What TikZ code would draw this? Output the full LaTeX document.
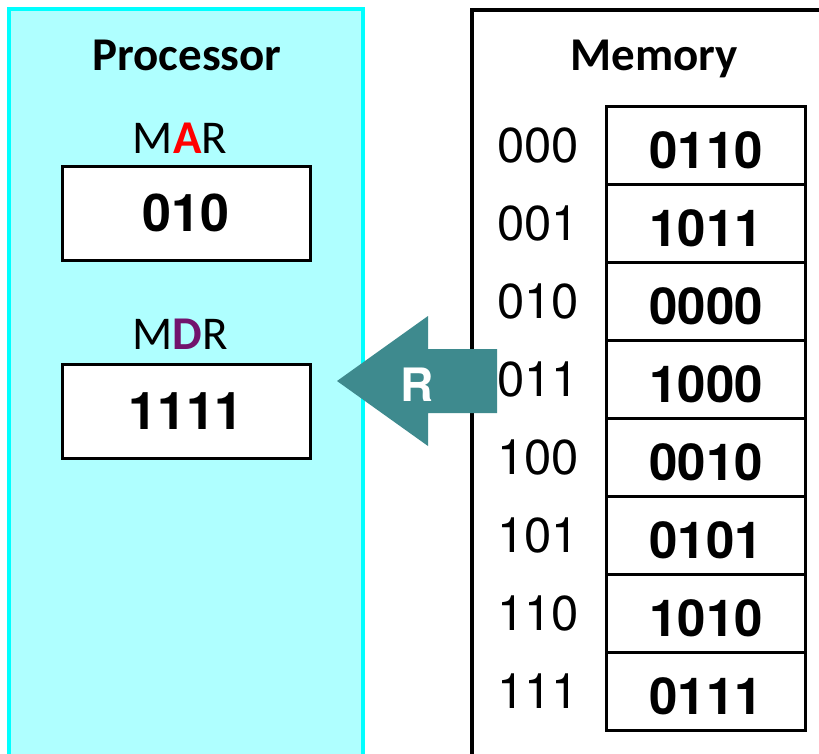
\documentclass[tikz,border=0pt]{standalone}
\usepackage{fontspec}
\setmainfont{TeX Gyre Heros}
\newfontfamily\arialfont{TeX Gyre Heros}
\newfontfamily\calibri{Carlito}
\usetikzlibrary{positioning}
\definecolor{cpufill}{HTML}{AFFFFF}
\definecolor{cpuedge}{HTML}{00FFFF}
\definecolor{readarrow}{HTML}{3E8A8E}
\definecolor{addrred}{HTML}{FF0000}
\definecolor{datapurple}{HTML}{72136D}

\begin{document}
\begin{tikzpicture}[
    x=1pt, y=-1pt,
    title/.style={font=\calibri\bfseries\fontsize{47}{47}\selectfont, anchor=base, inner sep=0pt},
    reglabel/.style={font=\calibri\fontsize{47}{47}\selectfont, anchor=base, inner sep=0pt},
    register/.style={draw, fill=white, line width=3pt, minimum width=248pt, minimum height=94pt,
                     inner sep=0pt, font=\arialfont\bfseries\fontsize{52}{52}\selectfont},
    cell/.style={draw, fill=white, line width=3pt, minimum width=199pt, minimum height=78pt,
                 inner sep=0pt, text height=46pt, text depth=0pt, font=\arialfont\bfseries\fontsize{51}{51}\selectfont},
    addr/.style={font=\arialfont\fontsize{49}{49}\selectfont, inner sep=0pt},
]

% ── Canvas ──
\useasboundingbox (0,0) rectangle (819,753);
\clip (0,0) rectangle (819,753);
\fill[white] (0,0) rectangle (819,753);

% ── Processor ──
\draw[cpuedge, fill=cpufill, line width=3.5pt] (9,9) rectangle (363,780);
\node[title] (cpu) at (187,70) {Processor};

\node[reglabel] (marlbl) at (180,153) {M\textcolor{addrred}{\bfseries A}R};
\node[register] (mar) at (186,213) {010};

\node[reglabel] (mdrlbl) at (180,349) {M\textcolor{datapurple}{\bfseries D}R};
\node[register] (mdr) at (186,411) {1111};

% ── Memory ──
\draw[line width=3.5pt] (830,10) -- (472,10) -- (472,780);
\node[title] (mem) at (654,70) {Memory};

\foreach \i/\adr/\val in {0/000/0110, 1/001/1011, 2/010/0000, 3/011/1000,
                          4/100/0010, 5/101/0101, 6/110/1010, 7/111/0111} {
    \pgfmathsetmacro{\cy}{145+78*\i}
    \node[cell] (cell-\i) at (706,\cy) {\val};
    \node[addr] (addr-\i) at (538,\cy) {\adr};
}

% ── Read arrow (memory -> MDR) ──
\fill[readarrow] (337,381) -- (428,316) -- (428,349) -- (497,349)
    -- (497,413) -- (428,413) -- (428,446) -- cycle;
\node[font=\arialfont\bfseries\fontsize{46}{46}\selectfont, text=white, inner sep=0pt] (rd) at (417,385) {R};

\end{tikzpicture}
\end{document}
